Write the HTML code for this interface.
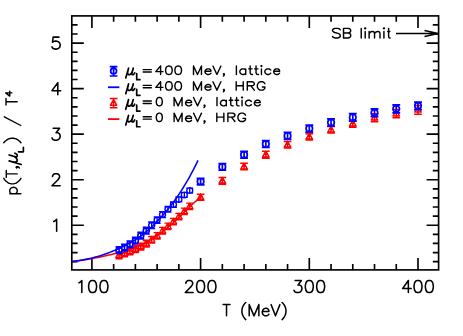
<!DOCTYPE html>
<html><head><meta charset="utf-8"><title>p(T,mu_L)/T^4</title>
<style>html,body{margin:0;padding:0;background:#fff;font-family:"Liberation Sans",sans-serif}svg{display:block}</style></head>
<body>
<svg width="463" height="336" viewBox="0 0 463 336" role="img" aria-label="p(T,mu_L)/T^4 versus T (MeV): lattice data and HRG curves for mu_L=400 MeV and mu_L=0 MeV, with SB limit arrow">
<rect x="0" y="0" width="463" height="336" fill="#fff"/>
<path d="M91.90 269.90V257.90M91.90 15.90V27.90 M113.64 269.90V264.10M113.64 15.90V21.70 M135.38 269.90V264.10M135.38 15.90V21.70 M157.12 269.90V264.10M157.12 15.90V21.70 M178.86 269.90V264.10M178.86 15.90V21.70 M200.60 269.90V257.90M200.60 15.90V27.90 M222.34 269.90V264.10M222.34 15.90V21.70 M244.08 269.90V264.10M244.08 15.90V21.70 M265.82 269.90V264.10M265.82 15.90V21.70 M287.56 269.90V264.10M287.56 15.90V21.70 M309.30 269.90V257.90M309.30 15.90V27.90 M331.04 269.90V264.10M331.04 15.90V21.70 M352.78 269.90V264.10M352.78 15.90V21.70 M374.52 269.90V264.10M374.52 15.90V21.70 M396.26 269.90V264.10M396.26 15.90V21.70 M418.00 269.90V257.90M418.00 15.90V27.90 M71.80 261.65H77.60M438.60 261.65H432.80 M71.80 252.55H77.60M438.60 252.55H432.80 M71.80 243.44H77.60M438.60 243.44H432.80 M71.80 234.34H77.60M438.60 234.34H432.80 M71.80 225.23H83.80M438.60 225.23H426.60 M71.80 216.12H77.60M438.60 216.12H432.80 M71.80 207.02H77.60M438.60 207.02H432.80 M71.80 197.91H77.60M438.60 197.91H432.80 M71.80 188.81H77.60M438.60 188.81H432.80 M71.80 179.70H83.80M438.60 179.70H426.60 M71.80 170.59H77.60M438.60 170.59H432.80 M71.80 161.49H77.60M438.60 161.49H432.80 M71.80 152.38H77.60M438.60 152.38H432.80 M71.80 143.28H77.60M438.60 143.28H432.80 M71.80 134.17H83.80M438.60 134.17H426.60 M71.80 125.06H77.60M438.60 125.06H432.80 M71.80 115.96H77.60M438.60 115.96H432.80 M71.80 106.85H77.60M438.60 106.85H432.80 M71.80 97.75H77.60M438.60 97.75H432.80 M71.80 88.64H83.80M438.60 88.64H426.60 M71.80 79.53H77.60M438.60 79.53H432.80 M71.80 70.43H77.60M438.60 70.43H432.80 M71.80 61.32H77.60M438.60 61.32H432.80 M71.80 52.22H77.60M438.60 52.22H432.80 M71.80 43.11H83.80M438.60 43.11H426.60 M71.80 34.00H77.60M438.60 34.00H432.80 M71.80 24.90H77.60M438.60 24.90H432.80" stroke="#000" stroke-width="1.65" fill="none"/>
<rect x="71.8" y="15.9" width="366.80" height="254.00" fill="none" stroke="#000" stroke-width="1.65"/>
<path d="M78.99 282.79 L80.13 282.22 L81.83 280.50 L81.83 292.55 M92.03 280.50 L90.33 281.07 L89.20 282.79 L88.63 285.66 L88.63 287.38 L89.20 290.25 L90.33 291.98 L92.03 292.55 L93.17 292.55 L94.87 291.98 L96.00 290.25 L96.57 287.38 L96.57 285.66 L96.00 282.79 L94.87 281.07 L93.17 280.50 L92.03 280.50 M103.37 280.50 L101.67 281.07 L100.54 282.79 L99.97 285.66 L99.97 287.38 L100.54 290.25 L101.67 291.98 L103.37 292.55 L104.51 292.55 L106.21 291.98 L107.34 290.25 L107.91 287.38 L107.91 285.66 L107.34 282.79 L106.21 281.07 L104.51 280.50 L103.37 280.50 M185.86 283.37 L185.86 282.79 L186.43 281.64 L186.99 281.07 L188.13 280.50 L190.39 280.50 L191.53 281.07 L192.10 281.64 L192.66 282.79 L192.66 283.94 L192.10 285.09 L190.96 286.81 L185.29 292.55 L193.23 292.55 M200.03 280.50 L198.33 281.07 L197.20 282.79 L196.63 285.66 L196.63 287.38 L197.20 290.25 L198.33 291.98 L200.03 292.55 L201.17 292.55 L202.87 291.98 L204.00 290.25 L204.57 287.38 L204.57 285.66 L204.00 282.79 L202.87 281.07 L201.17 280.50 L200.03 280.50 M211.37 280.50 L209.67 281.07 L208.54 282.79 L207.97 285.66 L207.97 287.38 L208.54 290.25 L209.67 291.98 L211.37 292.55 L212.51 292.55 L214.21 291.98 L215.34 290.25 L215.91 287.38 L215.91 285.66 L215.34 282.79 L214.21 281.07 L212.51 280.50 L211.37 280.50 M295.13 280.50 L301.36 280.50 L297.96 285.09 L299.66 285.09 L300.80 285.66 L301.36 286.24 L301.93 287.96 L301.93 289.11 L301.36 290.83 L300.23 291.98 L298.53 292.55 L296.83 292.55 L295.13 291.98 L294.56 291.40 L293.99 290.25 M308.73 280.50 L307.03 281.07 L305.90 282.79 L305.33 285.66 L305.33 287.38 L305.90 290.25 L307.03 291.98 L308.73 292.55 L309.87 292.55 L311.57 291.98 L312.70 290.25 L313.27 287.38 L313.27 285.66 L312.70 282.79 L311.57 281.07 L309.87 280.50 L308.73 280.50 M320.07 280.50 L318.37 281.07 L317.24 282.79 L316.67 285.66 L316.67 287.38 L317.24 290.25 L318.37 291.98 L320.07 292.55 L321.21 292.55 L322.91 291.98 L324.04 290.25 L324.61 287.38 L324.61 285.66 L324.04 282.79 L322.91 281.07 L321.21 280.50 L320.07 280.50 M408.36 280.50 L402.69 288.53 L411.20 288.53 M408.36 280.50 L408.36 292.55 M417.43 280.50 L415.73 281.07 L414.60 282.79 L414.03 285.66 L414.03 287.38 L414.60 290.25 L415.73 291.98 L417.43 292.55 L418.57 292.55 L420.27 291.98 L421.40 290.25 L421.97 287.38 L421.97 285.66 L421.40 282.79 L420.27 281.07 L418.57 280.50 L417.43 280.50 M428.77 280.50 L427.07 281.07 L425.94 282.79 L425.37 285.66 L425.37 287.38 L425.94 290.25 L427.07 291.98 L428.77 292.55 L429.91 292.55 L431.61 291.98 L432.74 290.25 L433.31 287.38 L433.31 285.66 L432.74 282.79 L431.61 281.07 L429.91 280.50 L428.77 280.50 M53.71 221.54 L54.88 220.97 L56.64 219.26 L56.64 231.23 M52.54 176.58 L52.54 176.01 L53.13 174.87 L53.71 174.30 L54.88 173.73 L57.22 173.73 L58.39 174.30 L58.98 174.87 L59.56 176.01 L59.56 177.15 L58.98 178.29 L57.81 180.00 L51.96 185.70 L60.15 185.70 M53.13 128.20 L59.56 128.20 L56.05 132.76 L57.81 132.76 L58.98 133.33 L59.56 133.90 L60.15 135.61 L60.15 136.75 L59.56 138.46 L58.39 139.60 L56.64 140.17 L54.88 140.17 L53.13 139.60 L52.54 139.03 L51.96 137.89 M57.81 82.67 L51.96 90.65 L60.73 90.65 M57.81 82.67 L57.81 94.64 M58.98 37.14 L53.13 37.14 L52.54 42.27 L53.13 41.70 L54.88 41.13 L56.64 41.13 L58.39 41.70 L59.56 42.84 L60.15 44.55 L60.15 45.69 L59.56 47.40 L58.39 48.54 L56.64 49.11 L54.88 49.11 L53.13 48.54 L52.54 47.97 L51.96 46.83" stroke="#000" stroke-width="1.55" fill="none" stroke-linecap="round" stroke-linejoin="round" />
<path d="M226.52 304.62 L226.52 315.85 M223.05 304.62 L229.98 304.62  M245.78 302.48 L244.68 303.55 L243.58 305.15 L242.48 307.29 L241.93 309.97 L241.93 312.11 L242.48 314.78 L243.58 316.92 L244.68 318.53 L245.78 319.60 M249.19 304.62 L249.19 315.85 M249.19 304.62 L254.03 315.85 M258.87 304.62 L254.03 315.85 M258.87 304.62 L258.87 315.85 M262.29 311.57 L268.89 311.57 L268.89 310.50 L268.34 309.43 L267.79 308.90 L266.69 308.36 L265.04 308.36 L263.94 308.90 L262.84 309.97 L262.29 311.57 L262.29 312.64 L262.84 314.25 L263.94 315.31 L265.04 315.85 L266.69 315.85 L267.79 315.31 L268.89 314.25 M271.09 304.62 L275.49 315.85 M279.90 304.62 L275.49 315.85 M282.10 302.48 L283.20 303.55 L284.30 305.15 L285.40 307.29 L285.95 309.97 L285.95 312.11 L285.40 314.78 L284.30 316.92 L283.20 318.53 L282.10 319.60" stroke="#000" stroke-width="1.5" fill="none" stroke-linecap="round" stroke-linejoin="round" />
<path d="M340.24 29.72 L339.14 28.81 L337.49 28.35 L335.28 28.35 L333.63 28.81 L332.53 29.72 L332.53 30.64 L333.08 31.55 L333.63 32.01 L334.73 32.47 L338.04 33.38 L339.14 33.84 L339.69 34.29 L340.24 35.21 L340.24 36.58 L339.14 37.49 L337.49 37.95 L335.28 37.95 L333.63 37.49 L332.53 36.58 M343.53 28.35 L343.53 37.95 M343.53 28.35 L348.12 28.35 L349.65 28.81 L350.16 29.27 L350.67 30.18 L350.67 31.10 L350.16 32.01 L349.65 32.47 L348.12 32.92 M343.53 32.92 L348.12 32.92 L349.65 33.38 L350.16 33.84 L350.67 34.75 L350.67 36.12 L350.16 37.04 L349.65 37.49 L348.12 37.95 L343.53 37.95 M361.23 28.35 L361.23 37.95 M364.68 28.35 L365.17 28.81 L365.67 28.35 L365.17 27.90 L364.68 28.35 M365.17 31.55 L365.17 37.95 M369.12 31.55 L369.12 37.95 M369.12 33.38 L370.60 32.01 L371.59 31.55 L373.07 31.55 L374.06 32.01 L374.55 33.38 L374.55 37.95 M374.55 33.38 L376.03 32.01 L377.02 31.55 L378.50 31.55 L379.49 32.01 L379.98 33.38 L379.98 37.95 M383.44 28.35 L383.93 28.81 L384.42 28.35 L383.93 27.90 L383.44 28.35 M383.93 31.55 L383.93 37.95 M388.61 28.35 L388.61 36.12 L388.90 37.49 L389.49 37.95 L390.08 37.95 M387.73 31.55 L389.78 31.55" stroke="#000" stroke-width="1.45" fill="none" stroke-linecap="round" stroke-linejoin="round" />
<path d="M396 33.55H438.1M424.5 30.6L438.1 33.55L424.5 36.5" stroke="#000" stroke-width="1.5" fill="none"/>
<path d="M143.20 69.65 L151.30 69.65 M143.20 72.05 L151.30 72.05 M160.60 66.05 L155.80 71.65 L163.00 71.65 M160.60 66.05 L160.60 74.45 M168.43 66.05 L167.01 66.45 L166.07 67.65 L165.60 69.65 L165.60 70.85 L166.07 72.85 L167.01 74.05 L168.43 74.45 L169.37 74.45 L170.79 74.05 L171.73 72.85 L172.20 70.85 L172.20 69.65 L171.73 67.65 L170.79 66.45 L169.37 66.05 L168.43 66.05 M177.73 66.05 L176.31 66.45 L175.37 67.65 L174.90 69.65 L174.90 70.85 L175.37 72.85 L176.31 74.05 L177.73 74.45 L178.67 74.45 L180.09 74.05 L181.03 72.85 L181.50 70.85 L181.50 69.65 L181.03 67.65 L180.09 66.45 L178.67 66.05 L177.73 66.05 M193.50 66.05 L193.50 74.45 M193.50 66.05 L197.49 74.45 M201.47 66.05 L197.49 74.45 M201.47 66.05 L201.47 74.45 M204.96 71.25 L210.94 71.25 L210.94 70.45 L210.45 69.65 L209.95 69.25 L208.95 68.85 L207.45 68.85 L206.46 69.25 L205.46 70.05 L204.96 71.25 L204.96 72.05 L205.46 73.25 L206.46 74.05 L207.45 74.45 L208.95 74.45 L209.95 74.05 L210.94 73.25 M212.94 66.05 L216.92 74.45 M220.91 66.05 L216.92 74.45 M224.40 74.05 L223.90 74.45 L223.40 74.05 L223.90 73.65 L224.40 74.05 L224.40 74.85 L223.90 75.65 L223.40 76.05 M236.40 66.05 L236.40 74.45 M245.73 68.85 L245.73 74.45 M245.73 70.05 L244.75 69.25 L243.76 68.85 L242.29 68.85 L241.31 69.25 L240.33 70.05 L239.84 71.25 L239.84 72.05 L240.33 73.25 L241.31 74.05 L242.29 74.45 L243.76 74.45 L244.75 74.05 L245.73 73.25 M250.15 66.05 L250.15 72.85 L250.64 74.05 L251.62 74.45 L252.60 74.45 M248.67 68.85 L252.11 68.85 M256.04 66.05 L256.04 72.85 L256.53 74.05 L257.51 74.45 L258.49 74.45 M254.56 68.85 L258.00 68.85 M260.95 66.05 L261.44 66.45 L261.93 66.05 L261.44 65.65 L260.95 66.05 M261.44 68.85 L261.44 74.45 M270.76 70.05 L269.78 69.25 L268.80 68.85 L267.33 68.85 L266.35 69.25 L265.36 70.05 L264.87 71.25 L264.87 72.05 L265.36 73.25 L266.35 74.05 L267.33 74.45 L268.80 74.45 L269.78 74.05 L270.76 73.25 M273.71 71.25 L279.60 71.25 L279.60 70.45 L279.11 69.65 L278.62 69.25 L277.64 68.85 L276.16 68.85 L275.18 69.25 L274.20 70.05 L273.71 71.25 L273.71 72.05 L274.20 73.25 L275.18 74.05 L276.16 74.45 L277.64 74.45 L278.62 74.05 L279.60 73.25 M143.20 85.35 L151.30 85.35 M143.20 87.75 L151.30 87.75 M160.60 81.75 L155.80 87.35 L163.00 87.35 M160.60 81.75 L160.60 90.15 M168.43 81.75 L167.01 82.15 L166.07 83.35 L165.60 85.35 L165.60 86.55 L166.07 88.55 L167.01 89.75 L168.43 90.15 L169.37 90.15 L170.79 89.75 L171.73 88.55 L172.20 86.55 L172.20 85.35 L171.73 83.35 L170.79 82.15 L169.37 81.75 L168.43 81.75 M177.73 81.75 L176.31 82.15 L175.37 83.35 L174.90 85.35 L174.90 86.55 L175.37 88.55 L176.31 89.75 L177.73 90.15 L178.67 90.15 L180.09 89.75 L181.03 88.55 L181.50 86.55 L181.50 85.35 L181.03 83.35 L180.09 82.15 L178.67 81.75 L177.73 81.75 M193.50 81.75 L193.50 90.15 M193.50 81.75 L197.49 90.15 M201.47 81.75 L197.49 90.15 M201.47 81.75 L201.47 90.15 M204.96 86.95 L210.94 86.95 L210.94 86.15 L210.45 85.35 L209.95 84.95 L208.95 84.55 L207.45 84.55 L206.46 84.95 L205.46 85.75 L204.96 86.95 L204.96 87.75 L205.46 88.95 L206.46 89.75 L207.45 90.15 L208.95 90.15 L209.95 89.75 L210.94 88.95 M212.94 81.75 L216.92 90.15 M220.91 81.75 L216.92 90.15 M224.40 89.75 L223.90 90.15 L223.40 89.75 L223.90 89.35 L224.40 89.75 L224.40 90.55 L223.90 91.35 L223.40 91.75 M236.20 81.75 L236.20 90.15 M243.25 81.75 L243.25 90.15 M236.20 85.75 L243.25 85.75 M247.28 81.75 L247.28 90.15 M247.28 81.75 L251.81 81.75 L253.32 82.15 L253.82 82.55 L254.33 83.35 L254.33 84.15 L253.82 84.95 L253.32 85.35 L251.81 85.75 L247.28 85.75 M250.80 85.75 L254.33 90.15 M264.90 83.75 L264.40 82.95 L263.39 82.15 L262.38 81.75 L260.37 81.75 L259.36 82.15 L258.35 82.95 L257.85 83.75 L257.35 84.95 L257.35 86.95 L257.85 88.15 L258.35 88.95 L259.36 89.75 L260.37 90.15 L262.38 90.15 L263.39 89.75 L264.40 88.95 L264.90 88.15 L264.90 86.95 M262.38 86.95 L264.90 86.95 M143.20 101.05 L151.30 101.05 M143.20 103.45 L151.30 103.45 M158.87 97.45 L157.59 97.85 L156.73 99.05 L156.30 101.05 L156.30 102.25 L156.73 104.25 L157.59 105.45 L158.87 105.85 L159.73 105.85 L161.01 105.45 L161.87 104.25 L162.30 102.25 L162.30 101.05 L161.87 99.05 L161.01 97.85 L159.73 97.45 L158.87 97.45 M174.10 97.45 L174.10 105.85 M174.10 97.45 L178.09 105.85 M182.07 97.45 L178.09 105.85 M182.07 97.45 L182.07 105.85 M185.56 102.65 L191.54 102.65 L191.54 101.85 L191.05 101.05 L190.55 100.65 L189.55 100.25 L188.05 100.25 L187.06 100.65 L186.06 101.45 L185.56 102.65 L185.56 103.45 L186.06 104.65 L187.06 105.45 L188.05 105.85 L189.55 105.85 L190.55 105.45 L191.54 104.65 M193.54 97.45 L197.52 105.85 M201.51 97.45 L197.52 105.85 M205.00 105.45 L204.50 105.85 L204.00 105.45 L204.50 105.05 L205.00 105.45 L205.00 106.25 L204.50 107.05 L204.00 107.45 M217.00 97.45 L217.00 105.85 M226.33 100.25 L226.33 105.85 M226.33 101.45 L225.35 100.65 L224.36 100.25 L222.89 100.25 L221.91 100.65 L220.93 101.45 L220.44 102.65 L220.44 103.45 L220.93 104.65 L221.91 105.45 L222.89 105.85 L224.36 105.85 L225.35 105.45 L226.33 104.65 M230.75 97.45 L230.75 104.25 L231.24 105.45 L232.22 105.85 L233.20 105.85 M229.27 100.25 L232.71 100.25 M236.64 97.45 L236.64 104.25 L237.13 105.45 L238.11 105.85 L239.09 105.85 M235.16 100.25 L238.60 100.25 M241.55 97.45 L242.04 97.85 L242.53 97.45 L242.04 97.05 L241.55 97.45 M242.04 100.25 L242.04 105.85 M251.36 101.45 L250.38 100.65 L249.40 100.25 L247.93 100.25 L246.95 100.65 L245.96 101.45 L245.47 102.65 L245.47 103.45 L245.96 104.65 L246.95 105.45 L247.93 105.85 L249.40 105.85 L250.38 105.45 L251.36 104.65 M254.31 102.65 L260.20 102.65 L260.20 101.85 L259.71 101.05 L259.22 100.65 L258.24 100.25 L256.76 100.25 L255.78 100.65 L254.80 101.45 L254.31 102.65 L254.31 103.45 L254.80 104.65 L255.78 105.45 L256.76 105.85 L258.24 105.85 L259.22 105.45 L260.20 104.65 M143.20 116.75 L151.30 116.75 M143.20 119.15 L151.30 119.15 M158.87 113.15 L157.59 113.55 L156.73 114.75 L156.30 116.75 L156.30 117.95 L156.73 119.95 L157.59 121.15 L158.87 121.55 L159.73 121.55 L161.01 121.15 L161.87 119.95 L162.30 117.95 L162.30 116.75 L161.87 114.75 L161.01 113.55 L159.73 113.15 L158.87 113.15 M174.10 113.15 L174.10 121.55 M174.10 113.15 L178.09 121.55 M182.07 113.15 L178.09 121.55 M182.07 113.15 L182.07 121.55 M185.56 118.35 L191.54 118.35 L191.54 117.55 L191.05 116.75 L190.55 116.35 L189.55 115.95 L188.05 115.95 L187.06 116.35 L186.06 117.15 L185.56 118.35 L185.56 119.15 L186.06 120.35 L187.06 121.15 L188.05 121.55 L189.55 121.55 L190.55 121.15 L191.54 120.35 M193.54 113.15 L197.52 121.55 M201.51 113.15 L197.52 121.55 M205.00 121.15 L204.50 121.55 L204.00 121.15 L204.50 120.75 L205.00 121.15 L205.00 121.95 L204.50 122.75 L204.00 123.15 M216.80 113.15 L216.80 121.55 M223.85 113.15 L223.85 121.55 M216.80 117.15 L223.85 117.15 M227.88 113.15 L227.88 121.55 M227.88 113.15 L232.41 113.15 L233.92 113.55 L234.42 113.95 L234.93 114.75 L234.93 115.55 L234.42 116.35 L233.92 116.75 L232.41 117.15 L227.88 117.15 M231.40 117.15 L234.93 121.55 M245.50 115.15 L245.00 114.35 L243.99 113.55 L242.98 113.15 L240.97 113.15 L239.96 113.55 L238.95 114.35 L238.45 115.15 L237.95 116.35 L237.95 118.35 L238.45 119.55 L238.95 120.35 L239.96 121.15 L240.97 121.55 L242.98 121.55 L243.99 121.15 L245.00 120.35 L245.50 119.55 L245.50 118.35 M242.98 118.35 L245.50 118.35" stroke="#000" stroke-width="1.4" fill="none" stroke-linecap="round" stroke-linejoin="round" />
<path d="M128.57 68.19 L125.75 77.95 M128.10 70.05 L127.63 72.38 L127.63 73.77 L128.57 74.70 L129.51 74.70 L130.45 74.23 L131.39 73.31 L132.33 71.45 M133.27 68.19 L132.33 71.45 L131.86 73.31 L131.86 74.23 L132.33 74.70 L133.27 74.70 L134.21 73.77 L134.68 72.84 M136.70 73.67 L136.70 79.65 M136.70 79.65 L139.94 79.65 M128.57 83.89 L125.75 93.66 M128.10 85.75 L127.63 88.08 L127.63 89.47 L128.57 90.40 L129.51 90.40 L130.45 89.94 L131.39 89.01 L132.33 87.15 M133.27 83.89 L132.33 87.15 L131.86 89.01 L131.86 89.94 L132.33 90.40 L133.27 90.40 L134.21 89.47 L134.68 88.54 M136.70 89.37 L136.70 95.35 M136.70 95.35 L139.94 95.35 M128.57 99.59 L125.75 109.35 M128.10 101.45 L127.63 103.77 L127.63 105.17 L128.57 106.10 L129.51 106.10 L130.45 105.63 L131.39 104.70 L132.33 102.84 M133.27 99.59 L132.33 102.84 L131.86 104.70 L131.86 105.63 L132.33 106.10 L133.27 106.10 L134.21 105.17 L134.68 104.24 M136.70 105.06 L136.70 111.05 M136.70 111.05 L139.94 111.05 M128.57 115.29 L125.75 125.05 M128.10 117.15 L127.63 119.47 L127.63 120.87 L128.57 121.80 L129.51 121.80 L130.45 121.33 L131.39 120.41 L132.33 118.55 M133.27 115.29 L132.33 118.55 L131.86 120.41 L131.86 121.33 L132.33 121.80 L133.27 121.80 L134.21 120.87 L134.68 119.94 M136.70 120.77 L136.70 126.75 M136.70 126.75 L139.94 126.75" stroke="#000" stroke-width="1.7" fill="none" stroke-linecap="round" stroke-linejoin="round" />
<path d="M-193.70 -7.42 L-193.70 3.71 M-193.70 -5.83 L-192.63 -6.89 L-191.57 -7.42 L-189.97 -7.42 L-188.90 -6.89 L-187.83 -5.83 L-187.30 -4.24 L-187.30 -3.18 L-187.83 -1.59 L-188.90 -0.53 L-189.97 0.00 L-191.57 0.00 L-192.63 -0.53 L-193.70 -1.59 M-178.30 -13.44 L-179.90 -12.36 L-181.50 -10.75 L-183.10 -8.60 L-183.90 -5.91 L-183.90 -3.76 L-183.10 -1.07 L-181.50 1.07 L-179.90 2.69 L-178.30 3.76 M-173.90 -10.92 L-173.90 0.00 M-177.40 -10.92 L-170.40 -10.92 M-166.60 -0.55 L-167.30 0.00 L-168.00 -0.55 L-167.30 -1.10 L-166.60 -0.55 L-166.60 0.55 L-167.30 1.65 L-168.00 2.20 M-142.80 -13.44 L-141.49 -12.36 L-140.17 -10.75 L-138.86 -8.60 L-138.20 -5.91 L-138.20 -3.76 L-138.86 -1.07 L-140.17 1.07 L-141.49 2.69 L-142.80 3.76 M-116.80 -12.90 L-125.50 3.61 M-101.70 -11.19 L-101.70 0.00 M-105.00 -11.19 L-98.40 -11.19 M-92.83 -11.49 L-96.10 -7.43 L-91.20 -7.43 M-92.83 -11.49 L-92.83 -5.40" stroke="#000" stroke-width="1.4" fill="none" stroke-linecap="round" stroke-linejoin="round" transform="translate(17.2,0) rotate(-90)"/>
<path d="M-160.88 -8.05 L-164.45 4.02 M-161.48 -5.75 L-162.07 -2.88 L-162.07 -1.15 L-160.88 0.00 L-159.69 0.00 L-158.50 -0.57 L-157.31 -1.72 L-156.12 -4.02 M-154.93 -8.05 L-156.12 -4.02 L-156.72 -1.72 L-156.72 -0.57 L-156.12 0.00 L-154.93 0.00 L-153.74 -1.15 L-153.15 -2.30 M-151.80 1.27 L-151.80 6.20 M-151.80 6.20 L-147.20 6.20" stroke="#000" stroke-width="1.65" fill="none" stroke-linecap="round" stroke-linejoin="round" transform="translate(17.2,0) rotate(-90)"/>
<path d="M71.80 261.72 L73.99 261.43 L76.18 261.12 L78.37 260.80 L80.55 260.48 L82.74 260.14 L84.93 259.79 L87.12 259.42 L89.31 259.05 L91.50 258.66 L93.69 258.25 L95.87 257.84 L98.06 257.41 L100.25 256.96 L102.44 256.50 L104.63 256.03 L106.82 255.53 L109.01 255.02 L111.19 254.48 L113.38 253.92 L115.57 253.34 L117.76 252.75 L119.95 252.13 L122.14 251.49 L124.33 250.83 L126.51 250.15 L128.70 249.44 L130.89 248.70 L133.08 247.92 L135.27 247.10 L137.46 246.25 L139.65 245.35 L141.83 244.40 L144.02 243.39 L146.21 242.32 L148.40 241.17 L150.59 239.93 L152.78 238.59 L154.97 237.16 L157.15 235.65 L159.34 234.07 L161.53 232.42 L163.72 230.71 L165.91 228.97 L168.10 227.21 L170.29 225.39 L172.47 223.48 L174.66 221.49 L176.85 219.43 L179.04 217.32 L181.23 215.17 L183.42 213.00 L185.61 210.83 L187.79 208.68 L189.98 206.59 L192.17 204.55 L194.36 202.55 L196.55 200.59 L198.74 198.69 L200.93 196.82" stroke="#f00" stroke-width="1.55" fill="none"/>
<path d="M200.60 194.33V200.23M196.75 194.33H204.45M196.75 200.23H204.45M200.60 193.78L203.80 199.58L197.40 199.58Z M222.34 177.46V184.16M218.49 177.46H226.19M218.49 184.16H226.19M222.34 177.31L225.54 183.11L219.14 183.11Z M244.08 163.33V169.83M240.23 163.33H247.93M240.23 169.83H247.93M244.08 163.08L247.28 168.88L240.88 168.88Z M265.82 151.16V158.16M261.97 151.16H269.67M261.97 158.16H269.67M265.82 151.16L269.02 156.96L262.62 156.96Z M287.56 141.45V148.05M283.71 141.45H291.41M283.71 148.05H291.41M287.56 141.25L290.76 147.05L284.36 147.05Z M309.30 133.64V139.94M305.45 133.64H313.15M305.45 139.94H313.15M309.30 133.29L312.50 139.09L306.10 139.09Z M331.04 126.44V133.04M327.19 126.44H334.89M327.19 133.04H334.89M331.04 126.24L334.24 132.04L327.84 132.04Z M352.78 120.15V127.15M348.93 120.15H356.63M348.93 127.15H356.63M352.78 120.15L355.98 125.95L349.58 125.95Z M374.52 113.82V121.82M370.67 113.82H378.37M370.67 121.82H378.37M374.52 114.32L377.72 120.12L371.32 120.12Z M396.26 109.39V117.79M392.41 109.39H400.11M392.41 117.79H400.11M396.26 110.09L399.46 115.89L393.06 115.89Z M418.00 105.42V114.22M414.15 105.42H421.85M414.15 114.22H421.85M418.00 106.32L421.20 112.12L414.80 112.12Z M113.60 98.60V107.80M109.75 98.60H117.45M109.75 107.80H117.45M113.60 99.50L116.70 105.20L110.50 105.20Z" stroke="#f00" stroke-width="1.5" fill="none" stroke-linejoin="round"/>
<path d="M151.69 236.50V243.10M148.19 236.50H155.19M148.19 243.10H155.19M151.69 236.30L154.88 242.10L148.49 242.10Z M157.12 232.59V239.19M153.62 232.59H160.62M153.62 239.19H160.62M157.12 232.39L160.32 238.19L153.92 238.19Z M162.56 227.41V234.01M159.06 227.41H166.06M159.06 234.01H166.06M162.56 227.21L165.75 233.01L159.36 233.01Z M167.99 223.08V229.68M164.49 223.08H171.49M164.49 229.68H171.49M167.99 222.88L171.19 228.68L164.79 228.68Z M173.43 218.31V224.91M169.93 218.31H176.93M169.93 224.91H176.93M173.43 218.11L176.62 223.91L170.23 223.91Z M178.86 213.31V219.91M175.36 213.31H182.36M175.36 219.91H182.36M178.86 213.11L182.06 218.91L175.66 218.91Z M184.30 208.08V214.68M180.80 208.08H187.80M180.80 214.68H187.80M184.30 207.88L187.50 213.68L181.10 213.68Z M189.73 203.07V209.67M186.23 203.07H193.23M186.23 209.67H193.23M189.73 202.87L192.93 208.67L186.53 208.67Z" stroke="#f00" stroke-width="1.35" fill="none" stroke-linejoin="round"/>
<path d="M119.08 252.01V258.61M115.58 252.01H122.58M115.58 258.61H122.58M119.08 251.81L122.28 257.61L115.88 257.61Z M124.51 250.14V256.75M121.01 250.14H128.01M121.01 256.75H128.01M124.51 249.94L127.71 255.75L121.31 255.75Z M129.94 248.10V254.70M126.44 248.10H133.44M126.44 254.70H133.44M129.94 247.90L133.14 253.70L126.74 253.70Z M135.38 245.82V252.42M131.88 245.82H138.88M131.88 252.42H138.88M135.38 245.62L138.58 251.42L132.18 251.42Z M140.81 243.23V249.83M137.31 243.23H144.31M137.31 249.83H144.31M140.81 243.03L144.01 248.83L137.62 248.83Z M146.25 240.41V247.01M142.75 240.41H149.75M142.75 247.01H149.75M146.25 240.21L149.45 246.01L143.05 246.01Z" stroke="#f00" stroke-width="1.6500000000000001" fill="none" stroke-linejoin="round"/>
<path d="M71.80 261.68 L73.94 261.37 L76.08 261.05 L78.22 260.71 L80.36 260.35 L82.49 259.97 L84.63 259.56 L86.77 259.13 L88.91 258.67 L91.05 258.19 L93.19 257.68 L95.33 257.12 L97.47 256.53 L99.60 255.89 L101.74 255.20 L103.88 254.48 L106.02 253.72 L108.16 252.93 L110.30 252.10 L112.44 251.25 L114.58 250.38 L116.72 249.47 L118.85 248.53 L120.99 247.55 L123.13 246.54 L125.27 245.48 L127.41 244.37 L129.55 243.22 L131.69 242.00 L133.83 240.73 L135.97 239.39 L138.10 237.98 L140.24 236.49 L142.38 234.90 L144.52 233.21 L146.66 231.41 L148.80 229.52 L150.94 227.53 L153.08 225.46 L155.21 223.33 L157.35 221.14 L159.49 218.89 L161.63 216.57 L163.77 214.17 L165.91 211.69 L168.05 209.11 L170.19 206.44 L172.33 203.66 L174.46 200.77 L176.60 197.76 L178.74 194.62 L180.88 191.37 L183.02 187.99 L185.16 184.47 L187.30 180.83 L189.44 177.04 L191.57 173.12 L193.71 169.04 L195.85 164.82 L197.99 160.44" stroke="#00f" stroke-width="1.55" fill="none"/>
<path d="M200.60 178.39V184.79M196.65 178.39H204.55M196.65 184.79H204.55M197.35 181.59A3.25 3.15 0 1 0 203.85 181.59A3.25 3.15 0 1 0 197.35 181.59Z M222.34 163.55V170.25M218.39 163.55H226.29M218.39 170.25H226.29M219.09 166.90A3.25 3.15 0 1 0 225.59 166.90A3.25 3.15 0 1 0 219.09 166.90Z M244.08 151.36V158.06M240.13 151.36H248.03M240.13 158.06H248.03M240.83 154.71A3.25 3.15 0 1 0 247.33 154.71A3.25 3.15 0 1 0 240.83 154.71Z M265.82 140.67V147.47M261.87 140.67H269.77M261.87 147.47H269.77M262.57 144.07A3.25 3.15 0 1 0 269.07 144.07A3.25 3.15 0 1 0 262.57 144.07Z M287.56 132.43V139.33M283.61 132.43H291.51M283.61 139.33H291.51M284.31 135.88A3.25 3.15 0 1 0 290.81 135.88A3.25 3.15 0 1 0 284.31 135.88Z M309.30 125.05V132.15M305.35 125.05H313.25M305.35 132.15H313.25M306.05 128.60A3.25 3.15 0 1 0 312.55 128.60A3.25 3.15 0 1 0 306.05 128.60Z M331.04 118.91V126.11M327.09 118.91H334.99M327.09 126.11H334.99M327.79 122.51A3.25 3.15 0 1 0 334.29 122.51A3.25 3.15 0 1 0 327.79 122.51Z M352.78 113.66V121.16M348.83 113.66H356.73M348.83 121.16H356.73M349.53 117.41A3.25 3.15 0 1 0 356.03 117.41A3.25 3.15 0 1 0 349.53 117.41Z M374.52 108.83V116.53M370.57 108.83H378.47M370.57 116.53H378.47M371.27 112.68A3.25 3.15 0 1 0 377.77 112.68A3.25 3.15 0 1 0 371.27 112.68Z M396.26 104.82V112.82M392.31 104.82H400.21M392.31 112.82H400.21M393.01 108.82A3.25 3.15 0 1 0 399.51 108.82A3.25 3.15 0 1 0 393.01 108.82Z M418.00 102.11V109.61M414.05 102.11H421.95M414.05 109.61H421.95M414.75 105.86A3.25 3.15 0 1 0 421.25 105.86A3.25 3.15 0 1 0 414.75 105.86Z M113.60 66.60V76.00M109.75 66.60H117.45M109.75 76.00H117.45M110.65 71.05A2.95 2.9 0 1 0 116.55 71.05A2.95 2.9 0 1 0 110.65 71.05Z" stroke="#00f" stroke-width="1.7" fill="none"/>
<path d="M151.69 221.99V228.59M148.19 221.99H155.19M148.19 228.59H155.19M148.69 225.29A3.0 2.8 0 1 0 154.69 225.29A3.0 2.8 0 1 0 148.69 225.29Z M157.12 216.82V223.22M153.62 216.82H160.62M153.62 223.22H160.62M154.12 220.02A3.0 2.8 0 1 0 160.12 220.02A3.0 2.8 0 1 0 154.12 220.02Z M162.56 211.61V217.61M159.06 211.61H166.06M159.06 217.61H166.06M159.56 214.61A3.0 2.8 0 1 0 165.56 214.61A3.0 2.8 0 1 0 159.56 214.61Z M167.99 206.53V212.13M164.49 206.53H171.49M164.49 212.13H171.49M164.99 209.33A3.0 2.8 0 1 0 170.99 209.33A3.0 2.8 0 1 0 164.99 209.33Z M173.43 202.00V207.20M169.93 202.00H176.93M169.93 207.20H176.93M170.43 204.60A3.0 2.8 0 1 0 176.43 204.60A3.0 2.8 0 1 0 170.43 204.60Z M178.86 196.91V201.91M175.36 196.91H182.36M175.36 201.91H182.36M175.86 199.41A3.0 2.8 0 1 0 181.86 199.41A3.0 2.8 0 1 0 175.86 199.41Z M184.30 192.41V197.41M180.80 192.41H187.80M180.80 197.41H187.80M181.30 194.91A3.0 2.8 0 1 0 187.30 194.91A3.0 2.8 0 1 0 181.30 194.91Z M189.73 188.09V193.09M186.23 188.09H193.23M186.23 193.09H193.23M186.73 190.59A3.0 2.8 0 1 0 192.73 190.59A3.0 2.8 0 1 0 186.73 190.59Z" stroke="#00f" stroke-width="1.35" fill="none"/>
<path d="M119.08 246.92V253.52M115.58 246.92H122.58M115.58 253.52H122.58M116.08 250.22A3.0 2.8 0 1 0 122.08 250.22A3.0 2.8 0 1 0 116.08 250.22Z M124.51 244.23V250.83M121.01 244.23H128.01M121.01 250.83H128.01M121.51 247.53A3.0 2.8 0 1 0 127.51 247.53A3.0 2.8 0 1 0 121.51 247.53Z M129.94 241.05V247.65M126.44 241.05H133.44M126.44 247.65H133.44M126.94 244.35A3.0 2.8 0 1 0 132.94 244.35A3.0 2.8 0 1 0 126.94 244.35Z M135.38 237.41V244.01M131.88 237.41H138.88M131.88 244.01H138.88M132.38 240.71A3.0 2.8 0 1 0 138.38 240.71A3.0 2.8 0 1 0 132.38 240.71Z M140.81 232.41V239.01M137.31 232.41H144.31M137.31 239.01H144.31M137.81 235.71A3.0 2.8 0 1 0 143.81 235.71A3.0 2.8 0 1 0 137.81 235.71Z M146.25 227.41V234.01M142.75 227.41H149.75M142.75 234.01H149.75M143.25 230.71A3.0 2.8 0 1 0 149.25 230.71A3.0 2.8 0 1 0 143.25 230.71Z" stroke="#00f" stroke-width="1.6" fill="none"/>
<path d="M108.0 119.1H119.35" stroke="#f00" stroke-width="1.8" fill="none"/>
<path d="M108.0 87.25H119.35" stroke="#00f" stroke-width="1.8" fill="none"/>
</svg>
</body></html>
